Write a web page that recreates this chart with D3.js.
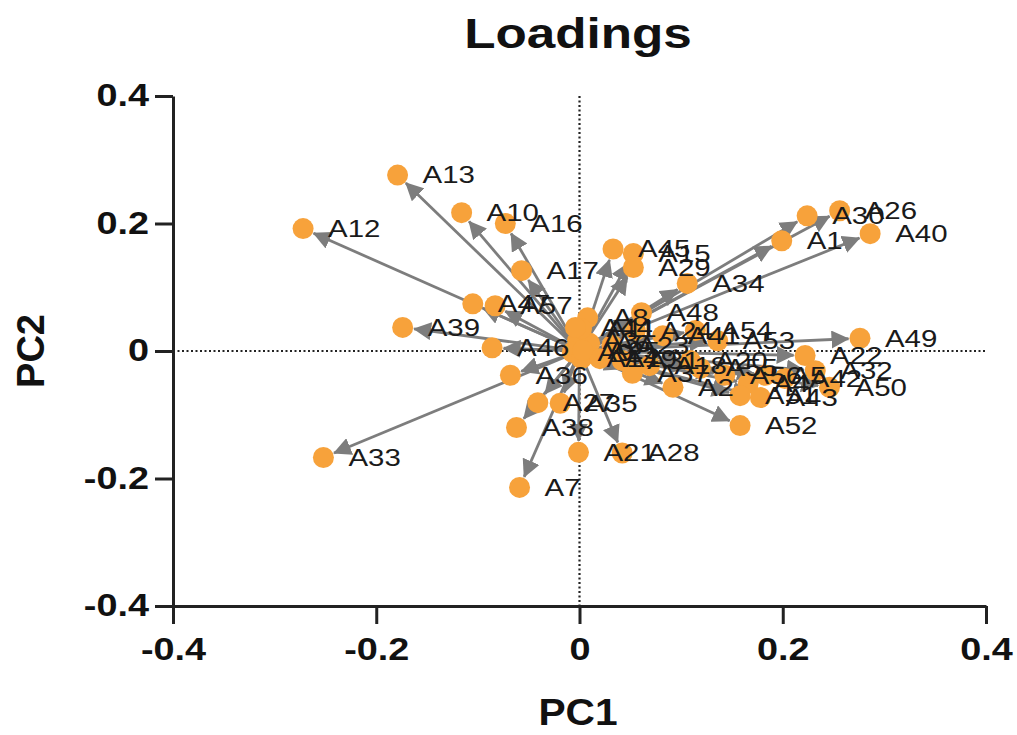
<!DOCTYPE html>
<html>
<head>
<meta charset="utf-8">
<script src="https://cdn.jsdelivr.net/npm/d3@7"></script>
<style>
  body { margin: 0; background: #fff; }
</style>
</head>
<body>
<script>
'use strict';

// loadings (PC1, PC2)
const names = ["A1","A2","A3","A4","A5","A6","A7","A8","A9","A10",
  "A11","A12","A13","A14","A15","A16","A17","A18","A19","A20",
  "A21","A22","A23","A24","A25","A26","A27","A28","A29","A30",
  "A31","A32","A33","A34","A35","A36","A37","A38","A39","A40",
  "A41","A42","A43","A44","A45","A46","A47","A48","A49","A50",
  "A51","A52","A53","A54","A55","A56","A57"];
const pc1 = [0.199, 0.092, -0.002, 0.166, 0.183, 0.010, -0.059, 0.008, -0.007, -0.116,
  0.002, -0.272, -0.179, 0.002, 0.053, -0.073, -0.057, 0.069, 0.020, 0.109,
  -0.001, 0.222, 0.032, 0.055, 0.003, 0.256, -0.041, 0.042, 0.053, 0.224,
  0.042, 0.232, -0.252, 0.106, -0.019, -0.068, 0.052, -0.062, -0.174, 0.286,
  0.082, 0.202, 0.178, -0.004, 0.033, -0.086, -0.105, 0.061, 0.276, 0.246,
  0.158, 0.158, 0.136, 0.114, 0.119, 0.143, -0.083];
const pc2 = [0.173, -0.057, 0.016, -0.051, -0.038, 0.012, -0.214, 0.052, -0.002, 0.217,
  0.035, 0.192, 0.276, -0.012, 0.153, 0.200, 0.126, -0.023, -0.012, -0.015,
  -0.159, -0.007, 0.009, 0.032, 0.001, 0.220, -0.081, -0.160, 0.131, 0.212,
  -0.015, -0.031, -0.167, 0.106, -0.082, -0.038, -0.035, -0.120, 0.037, 0.184,
  0.024, -0.043, -0.073, 0.037, 0.160, 0.005, 0.074, 0.060, 0.020, -0.057,
  -0.070, -0.117, 0.016, 0.032, -0.027, -0.038, 0.071];
const ticks = [-0.4, -0.2, 0, 0.2, 0.4];

let width = 1017, height = 735;
let svg = d3.select("body").append("svg")
    .attr("width", width)
    .attr("height", height);

let x = d3.scaleLinear().domain([-0.4, 0.4]).range([173, 986]);
let y = d3.scaleLinear().domain([-0.4, 0.4]).range([606, 96]);

let data = names.map(function(n, i) {
    return { name: n, x: pc1[i], y: pc2[i] };
});

let radius = 10.5;
let stretch = 1.22; // the original text is drawn wider than it is tall
let font = "Arial, 'Liberation Sans', sans-serif";
let tickFmt = function(d) { return d === 0 ? "0" : d3.format(".1f")(d).replace("\u2212", "-"); };

// dotted zero lines
svg.append("line")
    .attr("x1", x(0)).attr("x2", x(0))
    .attr("y1", y(0.4)).attr("y2", y(-0.4))
    .attr("stroke", "#222").attr("stroke-width", 2.2)
    .attr("stroke-dasharray", "2,2.5");
svg.append("line")
    .attr("x1", x(-0.4)).attr("x2", x(0.4))
    .attr("y1", y(0)).attr("y2", y(0))
    .attr("stroke", "#222").attr("stroke-width", 2.2)
    .attr("stroke-dasharray", "2,2.5");

// arrow head
svg.append("defs").append("marker")
    .attr("id", "head")
    .attr("markerUnits", "userSpaceOnUse")
    .attr("viewBox", "0 -9 18 18")
    .attr("refX", 17).attr("refY", 0)
    .attr("markerWidth", 18).attr("markerHeight", 18)
    .attr("orient", "auto")
    .append("path")
    .attr("d", "M0,-9L18,0L0,9Z")
    .attr("fill", "#7d7d7d");

function endPoint(d) {
    let dx = x(d.x) - x(0), dy = y(d.y) - y(0);
    let len = Math.sqrt(dx * dx + dy * dy);
    return { x: x(d.x) - dx / len * (radius + 1), y: y(d.y) - dy / len * (radius + 1), len: len };
}

// arrows from the origin, stopping at the edge of the dot
svg.append("g")
    .selectAll("line")
    .data(data)
    .enter().append("line")
    .attr("x1", x(0))
    .attr("y1", y(0))
    .attr("x2", function(d) { return endPoint(d).x; })
    .attr("y2", function(d) { return endPoint(d).y; })
    .attr("stroke", "#7d7d7d")
    .attr("stroke-width", 2.8)
    .attr("marker-end", function(d) {
        return endPoint(d).len > 30 ? "url(#head)" : null;
    });

// dots
svg.append("g")
    .selectAll("circle")
    .data(data)
    .enter().append("circle")
    .attr("cx", function(d) { return x(d.x); })
    .attr("cy", function(d) { return y(d.y); })
    .attr("r", radius)
    .attr("fill", "#f7a23b");

// point labels
svg.append("g")
    .selectAll("text")
    .data(data)
    .enter().append("text")
    .attr("transform", function(d) {
        return "translate(" + (x(d.x) + 25) + "," + y(d.y) + ") scale(1.28,1)";
    })
    .attr("dy", "0.36em")
    .text(function(d) { return d.name; })
    .style("font-family", font)
    .style("font-size", "23px")
    .style("fill", "#1a1a1a");

// axes
let xAxis = svg.append("g")
    .attr("transform", "translate(0," + y(-0.4) + ")")
    .call(d3.axisBottom(x).tickValues(ticks).tickFormat(tickFmt).tickSize(18).tickSizeOuter(0).tickPadding(14));
let yAxis = svg.append("g")
    .attr("transform", "translate(" + x(-0.4) + ",0)")
    .call(d3.axisLeft(y).tickValues(ticks).tickFormat(tickFmt).tickSize(18).tickSizeOuter(0).tickPadding(6));

[xAxis, yAxis].forEach(function(g) {
    g.select(".domain").attr("stroke", "#222").attr("stroke-width", 3);
    g.selectAll(".tick line").attr("stroke", "#222").attr("stroke-width", 3);
    g.selectAll(".tick text")
        .style("font-family", font)
        .style("font-size", "31px")
        .style("font-weight", "bold")
        .style("fill", "#111");
});
xAxis.selectAll(".tick text").attr("transform", "scale(" + stretch + ",1)");
yAxis.selectAll(".tick text")
    .attr("x", -24 / stretch)
    .attr("transform", "scale(" + stretch + ",1)");

// titles
svg.append("text")
    .attr("transform", "translate(578,48) scale(" + stretch + ",1)")
    .attr("text-anchor", "middle")
    .text("Loadings")
    .style("font-family", font).style("font-size", "42px")
    .style("font-weight", "bold").style("fill", "#111");

svg.append("text")
    .attr("transform", "translate(578,725) scale(1.1,1)")
    .attr("text-anchor", "middle")
    .text("PC1")
    .style("font-family", font).style("font-size", "37px")
    .style("font-weight", "bold").style("fill", "#111");

svg.append("text")
    .attr("transform", "translate(44," + y(0) + ") rotate(-90)")
    .attr("text-anchor", "middle")
    .text("PC2")
    .style("font-family", font).style("font-size", "38px")
    .style("font-weight", "bold").style("fill", "#111");
</script>
</body>
</html>
